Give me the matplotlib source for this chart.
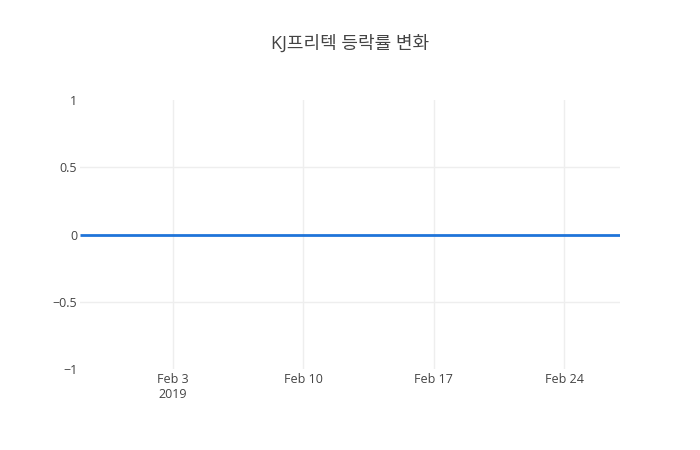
import pandas as pd
import matplotlib.pyplot as plt

plt.rcParams['font.family'] = ['Open Sans', 'Noto Sans CJK KR', 'DejaVu Sans']

# 거래일 (2019-01-29 ~ 2019-02-27), 설 연휴 제외
dates = ['2019-01-29', '2019-01-30', '2019-01-31', '2019-02-01',
         '2019-02-07', '2019-02-08', '2019-02-11', '2019-02-12',
         '2019-02-13', '2019-02-14', '2019-02-15', '2019-02-18',
         '2019-02-19', '2019-02-20', '2019-02-21', '2019-02-22',
         '2019-02-25', '2019-02-26', '2019-02-27']
# 등락률 (거래정지로 변동 없음)
rates = [0, 0, 0, 0, 0, 0, 0, 0, 0, 0, 0, 0, 0, 0, 0, 0, 0, 0, 0]

x = pd.to_datetime(dates)

fig = plt.figure(figsize=(7, 4.5), dpi=100)
ax = fig.add_axes([80 / 700, 81 / 450, 540 / 700, 269 / 450])

ax.plot(x, rates, color='#1f74d9', lw=2, solid_capstyle='butt', zorder=3)

ax.set_xlim(x[0], x[-1])
ax.set_ylim(-1, 1)
ax.set_yticks([-1, -0.5, 0, 0.5, 1])
ax.set_yticklabels(['\u22121', '\u22120.5', '0', '0.5', '1'])

ticks = pd.to_datetime(['2019-02-03', '2019-02-10', '2019-02-17', '2019-02-24'])
ax.set_xticks(ticks)
ax.set_xticklabels(['Feb 3\n2019', 'Feb 10', 'Feb 17', 'Feb 24'])

# 가로 격자선은 ±0.5 에만
for yv in [-0.5, 0.5]:
    ax.axhline(yv, color='#eeeeee', lw=1, zorder=0)
ax.grid(True, axis='x', color='#eeeeee', lw=1)
ax.set_axisbelow(True)
for s in ax.spines.values():
    s.set_visible(False)
ax.tick_params(length=0, colors='#444444', labelsize=9)
ax.tick_params(axis='x', pad=3)
ax.tick_params(axis='y', pad=2)
for lab in ax.get_xticklabels():
    lab.set_linespacing(1.2)

fig.text(0.5, 1 - 44 / 450, 'KJ프리텍 등락률 변화', ha='center', va='center',
         fontsize=13, color='#444444')

fig.savefig('out.png', dpi=100)
